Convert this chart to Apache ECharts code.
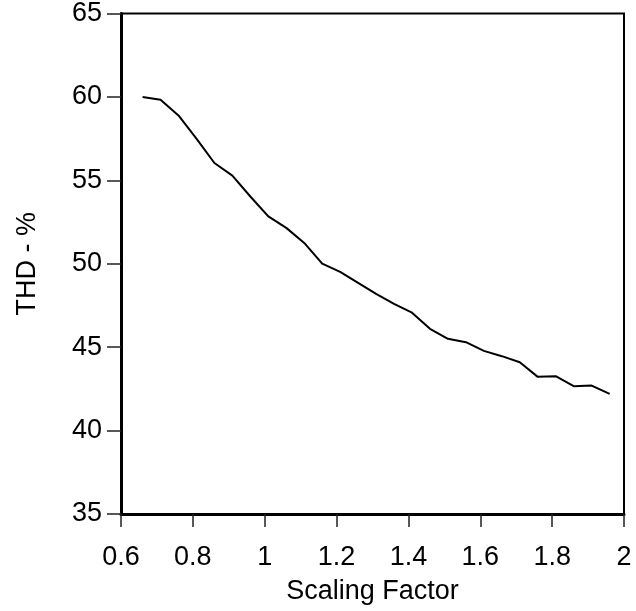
<!DOCTYPE html>
<html>
<head>
<meta charset="utf-8">
<script src="https://cdn.jsdelivr.net/npm/echarts@6/dist/echarts.min.js"></script>
<style>
  html, body { margin: 0; padding: 0; background: #fff; }
  #chart { width: 636px; height: 611px; }
</style>
</head>
<body>
<div id="chart"></div>
<script>
const scalingFactor = [0.66, 0.71, 0.76, 0.81, 0.86, 0.91, 0.96, 1.01, 1.06, 1.11, 1.16, 1.21, 1.26, 1.31,
  1.36, 1.41, 1.46, 1.51, 1.56, 1.61, 1.66, 1.71, 1.76, 1.81, 1.86, 1.91, 1.96];
const thd = [60.0, 59.83, 58.89, 57.5, 56.04, 55.28, 54.03, 52.84, 52.15, 51.25, 50.01, 49.51, 48.85, 48.19,
  47.59, 47.07, 46.1, 45.5, 45.3, 44.78, 44.46, 44.1, 43.22, 43.26, 42.66, 42.7, 42.2];
const xTitle = 'Scaling Factor';
const yTitle = 'THD - %';

const FONT = '"Liberation Sans", Arial, sans-serif';
const chart = echarts.init(document.getElementById('chart'), null, { renderer: 'canvas' });
chart.setOption({
  animation: false,
  backgroundColor: '#fff',
  grid: { left: 121, right: 12, top: 12, bottom: 97, show: true, borderColor: '#000', borderWidth: 2, backgroundColor: 'transparent' },
  xAxis: {
    type: 'value', min: 0.6, max: 2, interval: 0.2,
    name: xTitle, nameLocation: 'middle', nameGap: 64,
    nameTextStyle: { fontFamily: FONT, fontSize: 27, color: '#000' },
    axisLine: { show: true, onZero: false, lineStyle: { color: '#000', width: 3 } },
    axisTick: { show: true, length: 13, lineStyle: { color: '#222', width: 1.5 } },
    axisLabel: { fontFamily: FONT, fontSize: 27, color: '#000', margin: 30 },
    splitLine: { show: false }
  },
  yAxis: {
    type: 'value', min: 35, max: 65, interval: 5,
    name: yTitle, nameLocation: 'middle', nameGap: 80, nameRotate: 90,
    nameTextStyle: { fontFamily: FONT, fontSize: 27, color: '#000' },
    axisLine: { show: true, onZero: false, lineStyle: { color: '#000', width: 3 } },
    axisTick: { show: true, length: 14, lineStyle: { color: '#222', width: 1.5 } },
    axisLabel: { fontFamily: FONT, fontSize: 27, color: '#000', margin: 19 },
    splitLine: { show: false }
  },
  series: [{
    type: 'line',
    data: scalingFactor.map((x, i) => [x, thd[i]]),
    showSymbol: false,
    lineStyle: { color: '#000', width: 2 },
    itemStyle: { color: '#000' }
  }]
});
</script>
</body>
</html>
